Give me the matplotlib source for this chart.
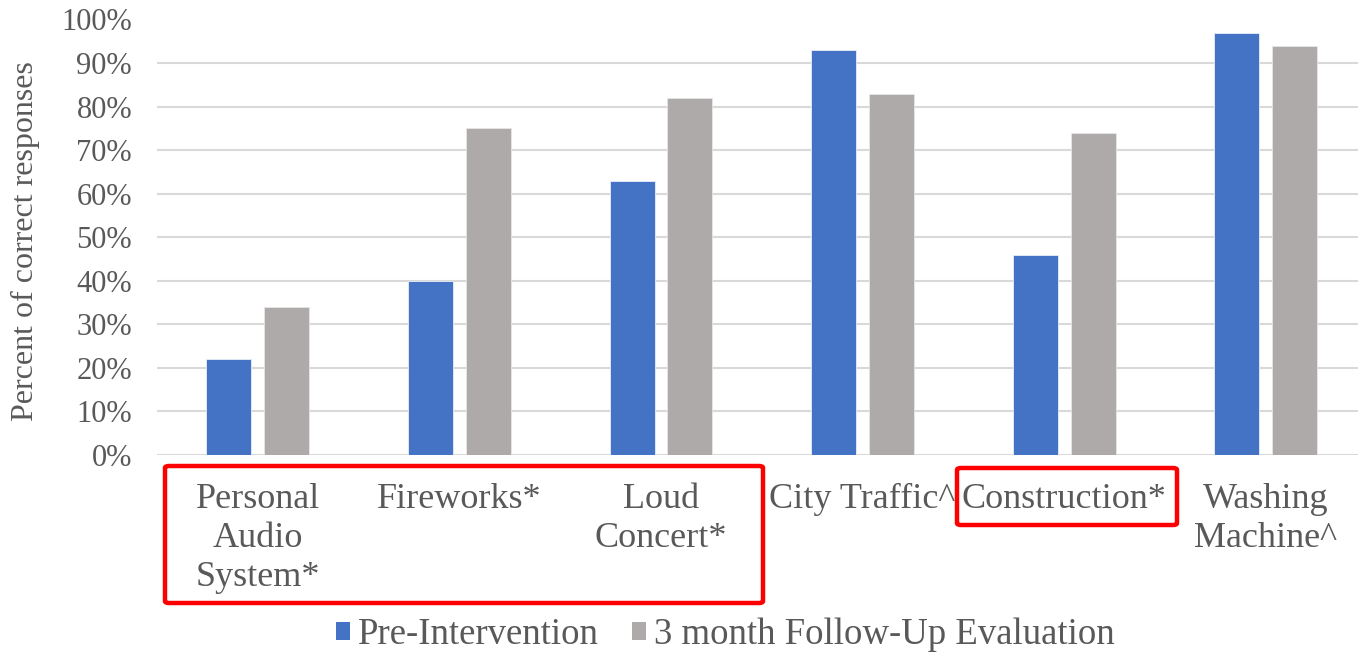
import matplotlib
matplotlib.use("Agg")
import matplotlib.pyplot as plt
import numpy as np
from matplotlib.patches import FancyBboxPatch, Patch
from matplotlib.ticker import PercentFormatter

categories = ["Personal\nAudio\nSystem*", "Fireworks*", "Loud\nConcert*",
              "City Traffic^", "Construction*", "Washing\nMachine^"]
pre_intervention = [22, 40, 63, 93, 46, 97]
follow_up = [34, 75, 82, 83, 74, 94]
series_names = ["Pre-Intervention", "3 month Follow-Up Evaluation"]
y_ticks = [0, 10, 20, 30, 40, 50, 60, 70, 80, 90, 100]

BLUE = "#4472C4"
GRAY = "#AEAAAA"
TEXT = "#595959"
FONT = ["Liberation Serif", "DejaVu Serif"]

plt.rcParams["font.family"] = FONT

W, H = 1358, 653
fig = plt.figure(figsize=(W / 100, H / 100), dpi=100)

# plot area: left edge at x=157, category width ~201.6 px (last group runs past the right edge)
left, bottom_px, top_px = 157, 455, 19.5
cat_w = 201.6
ax = fig.add_axes([left / W, (H - bottom_px) / H, 6 * cat_w / W, (bottom_px - top_px) / H])

x = np.arange(len(categories))
bw = 0.223
off = 0.143
ax.bar(x - off, pre_intervention, width=bw, color=BLUE, edgecolor="#e8eef8", linewidth=0.6, zorder=3)
ax.bar(x + off, follow_up, width=bw, color=GRAY, edgecolor="#e6e6e6", linewidth=0.6, zorder=3)

ax.set_xlim(-0.5, len(categories) - 0.5)
ax.set_ylim(0, 100)
ax.set_yticks(y_ticks)
ax.yaxis.set_major_formatter(PercentFormatter(decimals=0))
ax.grid(axis="y", color="#d9d9d9", linewidth=1.5, zorder=0)
ax.set_axisbelow(True)
for s in ax.spines.values():
    s.set_visible(False)

ax.set_xticks(x)
ax.set_xticklabels(categories, fontsize=26, color=TEXT, linespacing=1.25)
ax.tick_params(axis="x", length=0, pad=20)
ax.tick_params(axis="y", length=0, pad=18, labelsize=22, labelcolor=TEXT)

fig.text(25 / W, 1 - 241 / H, "Percent of correct responses", rotation=90,
         ha="center", va="center", fontsize=23, color=TEXT)

handles = [Patch(facecolor=BLUE), Patch(facecolor=GRAY)]
fig.legend(handles, series_names, loc="center", bbox_to_anchor=(725 / W, 1 - 635 / H),
           ncol=2, frameon=False, fontsize=26.5, labelcolor=TEXT,
           handlelength=0.4, handleheight=0.4, handletextpad=0.2, columnspacing=0.9)

# red highlight boxes around the categories marked with *
def red_box(x0, y0, x1, y1):
    fig.patches.append(FancyBboxPatch((x0 / W, 1 - y1 / H), (x1 - x0) / W, (y1 - y0) / H,
                                      boxstyle="round,pad=0,rounding_size=0.003",
                                      transform=fig.transFigure, fill=False,
                                      edgecolor="#FF0000", linewidth=3.2, zorder=10))

red_box(165, 466, 763, 603)
red_box(957, 468, 1177, 525)

fig.savefig("out.png", dpi=100)
